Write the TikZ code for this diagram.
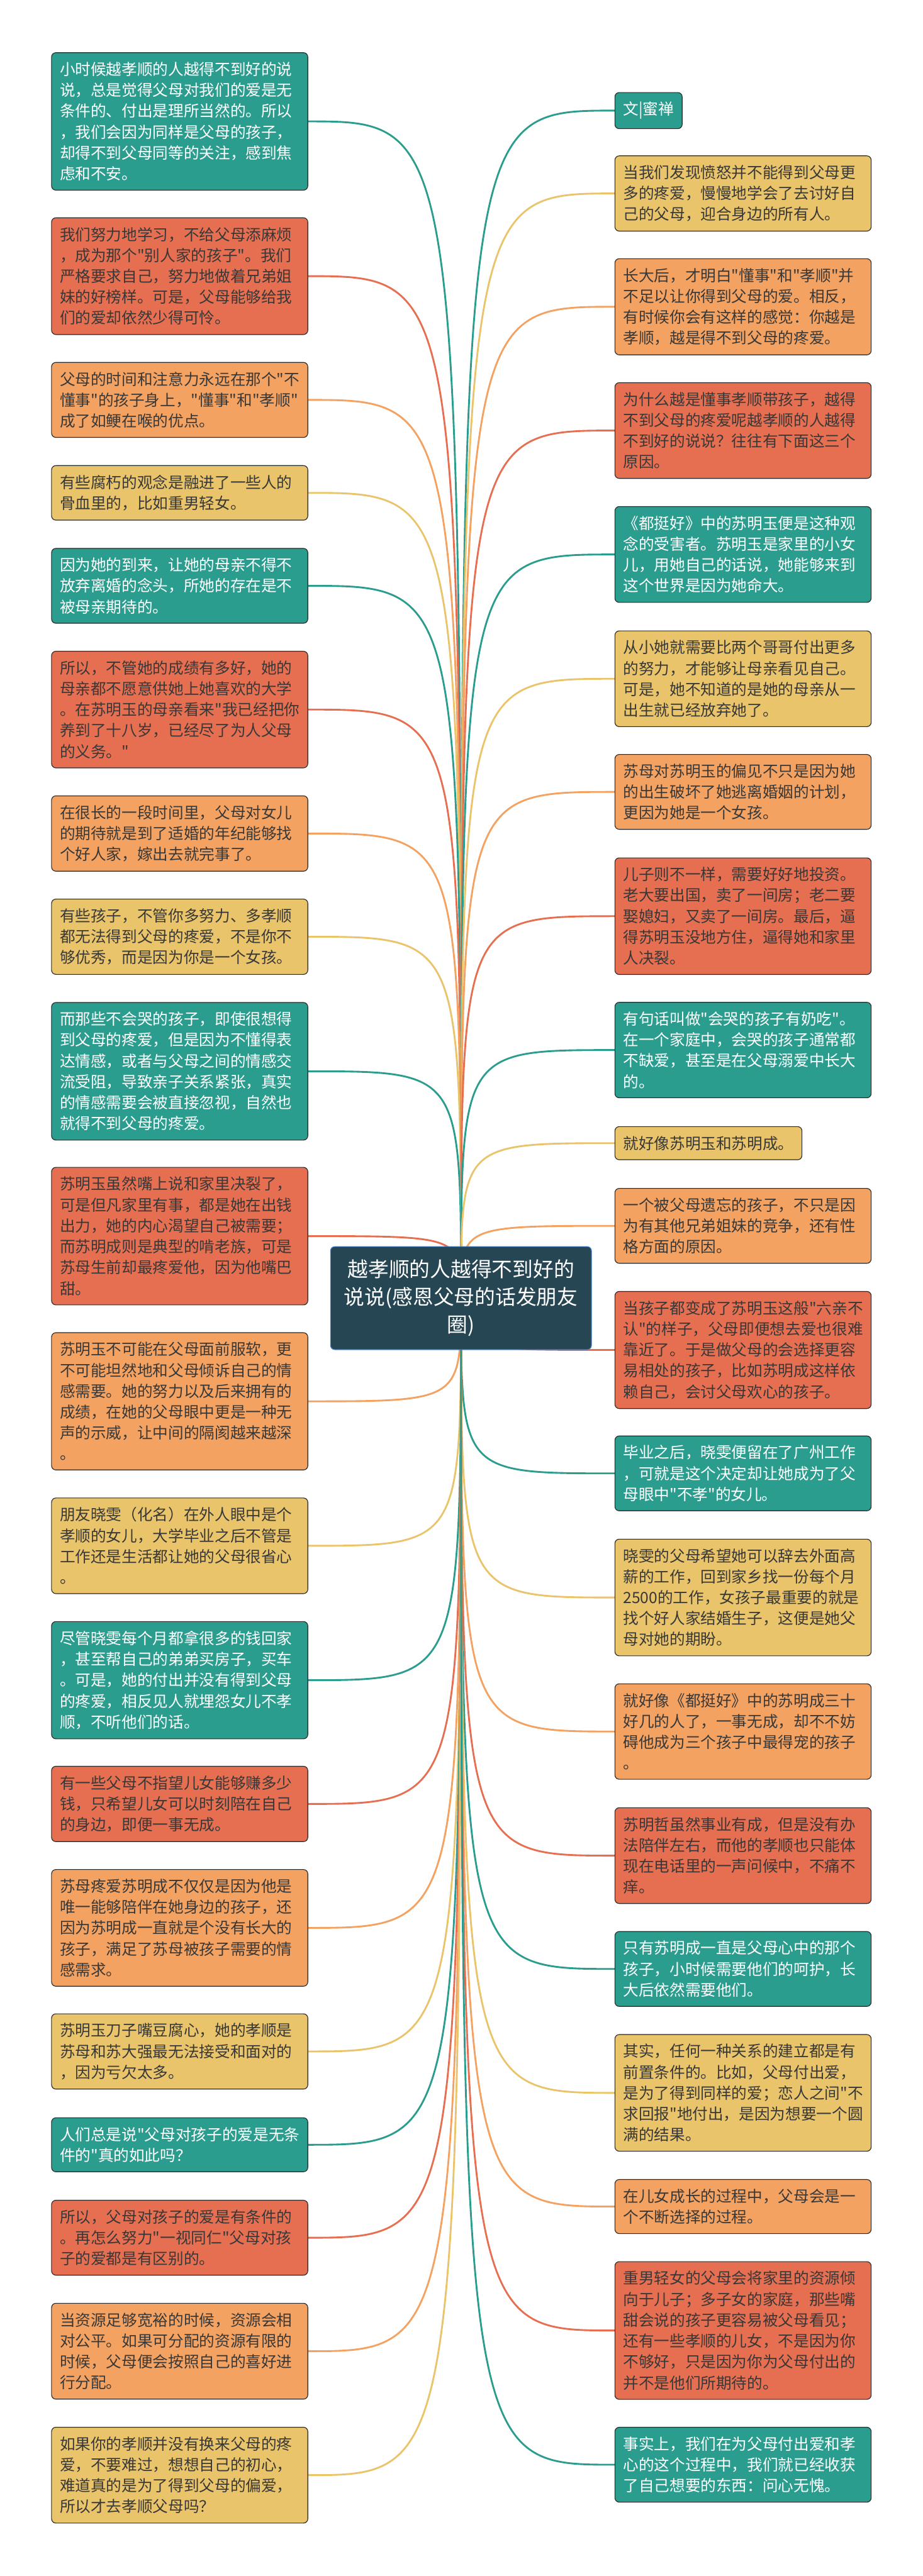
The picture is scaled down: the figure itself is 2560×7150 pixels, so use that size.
\documentclass[tikz,border=0pt]{standalone}
\usepackage{fontspec}
\usepackage{tikz}
\usetikzlibrary{backgrounds}
\newfontfamily\cjk{Noto Sans CJK SC}
\definecolor{tree-teal}{HTML}{2A9D8F}
\definecolor{tree-coral}{HTML}{E76F51}
\definecolor{tree-sand}{HTML}{F4A261}
\definecolor{tree-gold}{HTML}{E9C46A}
\definecolor{tree-slate}{HTML}{264653}
\definecolor{tree-ink}{HTML}{383838}
\definecolor{tree-rim}{HTML}{2A2A2A}
\definecolor{tree-blue}{HTML}{3F7FD0}

\begin{document}
\begin{tikzpicture}[x=0.5pt,y=-0.5pt]
  \tikzstyle{leaf}=[draw=tree-rim, line width=1pt, rounded corners=6pt, inner xsep=11.5pt, inner ysep=13pt, text=tree-ink, font=\cjk\fontsize{21.5pt}{29pt}\selectfont]
  \tikzstyle{wide}=[leaf, text width=332.5pt, align=left]
  \tikzstyle{tealbox}=[fill=tree-teal, text=white]
  \tikzstyle{coralbox}=[fill=tree-coral]
  \tikzstyle{sandbox}=[fill=tree-sand]
  \tikzstyle{goldbox}=[fill=tree-gold]
  \tikzstyle{branch}=[line width=2.5pt, to path={.. controls (\tikztostart |- \tikztotarget) .. (\tikztotarget)}]

  \useasboundingbox (0,0) rectangle (2560,7150);

  \node[fill=tree-slate, draw=tree-blue, line width=1pt, rounded corners=6pt, text=white, align=center, minimum width=362pt, minimum height=143pt, font=\cjk\fontsize{28.6pt}{38.5pt}\selectfont] (root) at (1279,3603) {越孝顺的人越得不到好的\\说说(感恩父母的话发朋友\\圈)};

  %% left side
  \node[wide, tealbox, anchor=east]  (l1)  at (855,337)    {小时候越孝顺的人越得不到好的说\\说，总是觉得父母对我们的爱是无\\条件的、付出是理所当然的。所以\\，我们会因为同样是父母的孩子，\\却得不到父母同等的关注，感到焦\\虑和不安。};
  \node[wide, coralbox, anchor=east] (l2)  at (855,766.5)  {我们努力地学习，不给父母添麻烦\\，成为那个"别人家的孩子"。我们\\严格要求自己，努力地做着兄弟姐\\妹的好榜样。可是，父母能够给我\\们的爱却依然少得可怜。};
  \node[wide, sandbox, anchor=east]  (l3)  at (855,1110)   {父母的时间和注意力永远在那个"不\\懂事"的孩子身上，"懂事"和"孝顺"\\成了如鲠在喉的优点。};
  \node[wide, goldbox, anchor=east]  (l4)  at (855,1368)   {有些腐朽的观念是融进了一些人的\\骨血里的，比如重男轻女。};
  \node[wide, tealbox, anchor=east]  (l5)  at (855,1626)   {因为她的到来，让她的母亲不得不\\放弃离婚的念头，所她的存在是不\\被母亲期待的。};
  \node[wide, coralbox, anchor=east] (l6)  at (855,1969.5) {所以，不管她的成绩有多好，她的\\母亲都不愿意供她上她喜欢的大学\\。在苏明玉的母亲看来"我已经把你\\养到了十八岁，已经尽了为人父母\\的义务。"};
  \node[wide, sandbox, anchor=east]  (l7)  at (855,2313.5) {在很长的一段时间里，父母对女儿\\的期待就是到了适婚的年纪能够找\\个好人家，嫁出去就完事了。};
  \node[wide, goldbox, anchor=east]  (l8)  at (855,2600)   {有些孩子，不管你多努力、多孝顺\\都无法得到父母的疼爱，不是你不\\够优秀，而是因为你是一个女孩。};
  \node[wide, tealbox, anchor=east]  (l9)  at (855,2973.5) {而那些不会哭的孩子，即使很想得\\到父母的疼爱，但是因为不懂得表\\达情感，或者与父母之间的情感交\\流受阻，导致亲子关系紧张，真实\\的情感需要会被直接忽视，自然也\\就得不到父母的疼爱。};
  \node[wide, coralbox, anchor=east] (l10) at (855,3431)   {苏明玉虽然嘴上说和家里决裂了，\\可是但凡家里有事，都是她在出钱\\出力，她的内心渴望自己被需要；\\而苏明成则是典型的啃老族，可是\\苏母生前却最疼爱他，因为他嘴巴\\甜。};
  \node[wide, sandbox, anchor=east]  (l11) at (855,3889.5) {苏明玉不可能在父母面前服软，更\\不可能坦然地和父母倾诉自己的情\\感需要。她的努力以及后来拥有的\\成绩，在她的父母眼中更是一种无\\声的示威，让中间的隔阂越来越深\\。};
  \node[wide, goldbox, anchor=east]  (l12) at (855,4290.5) {朋友晓雯（化名）在外人眼中是个\\孝顺的女儿，大学毕业之后不管是\\工作还是生活都让她的父母很省心\\。};
  \node[wide, tealbox, anchor=east]  (l13) at (855,4663.5) {尽管晓雯每个月都拿很多的钱回家\\，甚至帮自己的弟弟买房子，买车\\。可是，她的付出并没有得到父母\\的疼爱，相反见人就埋怨女儿不孝\\顺，不听他们的话。};
  \node[wide, coralbox, anchor=east] (l14) at (855,5007)   {有一些父母不指望儿女能够赚多少\\钱，只希望儿女可以时刻陪在自己\\的身边，即便一事无成。};
  \node[wide, sandbox, anchor=east]  (l15) at (855,5351)   {苏母疼爱苏明成不仅仅是因为他是\\唯一能够陪伴在她身边的孩子，还\\因为苏明成一直就是个没有长大的\\孩子，满足了苏母被孩子需要的情\\感需求。};
  \node[wide, goldbox, anchor=east]  (l16) at (855,5694)   {苏明玉刀子嘴豆腐心，她的孝顺是\\苏母和苏大强最无法接受和面对的\\，因为亏欠太多。};
  \node[wide, tealbox, anchor=east]  (l17) at (855,5953)   {人们总是说"父母对孩子的爱是无条\\件的"真的如此吗？};
  \node[wide, coralbox, anchor=east] (l18) at (855,6211)   {所以，父母对孩子的爱是有条件的\\。再怎么努力"一视同仁"父母对孩\\子的爱都是有区别的。};
  \node[wide, sandbox, anchor=east]  (l19) at (855,6526)   {当资源足够宽裕的时候，资源会相\\对公平。如果可分配的资源有限的\\时候，父母便会按照自己的喜好进\\行分配。};
  \node[wide, goldbox, anchor=east]  (l20) at (855,6870)   {如果你的孝顺并没有换来父母的疼\\爱，不要难过，想想自己的初心，\\难道真的是为了得到父母的偏爱，\\所以才去孝顺父母吗？};

  %% right side
  \node[leaf, tealbox, anchor=west]  (r1)  at (1705,307)    {文|蜜禅};
  \node[wide, goldbox, anchor=west]  (r2)  at (1705,537)    {当我们发现愤怒并不能得到父母更\\多的疼爱，慢慢地学会了去讨好自\\己的父母，迎合身边的所有人。};
  \node[wide, sandbox, anchor=west]  (r3)  at (1705,851.5)  {长大后，才明白"懂事"和"孝顺"并\\不足以让你得到父母的爱。相反，\\有时候你会有这样的感觉：你越是\\孝顺，越是得不到父母的疼爱。};
  \node[wide, coralbox, anchor=west] (r4)  at (1705,1195)   {为什么越是懂事孝顺带孩子，越得\\不到父母的疼爱呢越孝顺的人越得\\不到好的说说？往往有下面这三个\\原因。};
  \node[wide, tealbox, anchor=west]  (r5)  at (1705,1539)   {《都挺好》中的苏明玉便是这种观\\念的受害者。苏明玉是家里的小女\\儿，用她自己的话说，她能够来到\\这个世界是因为她命大。};
  \node[wide, goldbox, anchor=west]  (r6)  at (1705,1884)   {从小她就需要比两个哥哥付出更多\\的努力，才能够让母亲看见自己。\\可是，她不知道的是她的母亲从一\\出生就已经放弃她了。};
  \node[wide, sandbox, anchor=west]  (r7)  at (1705,2198)   {苏母对苏明玉的偏见不只是因为她\\的出生破坏了她逃离婚姻的计划，\\更因为她是一个女孩。};
  \node[wide, coralbox, anchor=west] (r8)  at (1705,2543)   {儿子则不一样，需要好好地投资。\\老大要出国，卖了一间房；老二要\\娶媳妇，又卖了一间房。最后，逼\\得苏明玉没地方住，逼得她和家里\\人决裂。};
  \node[wide, tealbox, anchor=west]  (r9)  at (1705,2914.5) {有句话叫做"会哭的孩子有奶吃"。\\在一个家庭中，会哭的孩子通常都\\不缺爱，甚至是在父母溺爱中长大\\的。};
  \node[leaf, goldbox, anchor=west]  (r10) at (1705,3173)   {就好像苏明玉和苏明成。};
  \node[wide, sandbox, anchor=west]  (r11) at (1705,3402.5) {一个被父母遗忘的孩子，不只是因\\为有其他兄弟姐妹的竞争，还有性\\格方面的原因。};
  \node[wide, coralbox, anchor=west] (r12) at (1705,3747)   {当孩子都变成了苏明玉这般"六亲不\\认"的样子，父母即便想去爱也很难\\靠近了。于是做父母的会选择更容\\易相处的孩子，比如苏明成这样依\\赖自己，会讨父母欢心的孩子。};
  \node[wide, tealbox, anchor=west]  (r13) at (1705,4089.5) {毕业之后，晓雯便留在了广州工作\\，可就是这个决定却让她成为了父\\母眼中"不孝"的女儿。};
  \node[wide, goldbox, anchor=west]  (r14) at (1705,4434)   {晓雯的父母希望她可以辞去外面高\\薪的工作，回到家乡找一份每个月\\2500的工作，女孩子最重要的就是\\找个好人家结婚生子，这便是她父\\母对她的期盼。};
  \node[wide, sandbox, anchor=west]  (r15) at (1705,4806)   {就好像《都挺好》中的苏明成三十\\好几的人了，一事无成，却不不妨\\碍他成为三个孩子中最得宠的孩子\\。};
  \node[wide, coralbox, anchor=west] (r16) at (1705,5150.5) {苏明哲虽然事业有成，但是没有办\\法陪伴左右，而他的孝顺也只能体\\现在电话里的一声问候中，不痛不\\痒。};
  \node[wide, tealbox, anchor=west]  (r17) at (1705,5465)   {只有苏明成一直是父母心中的那个\\孩子，小时候需要他们的呵护，长\\大后依然需要他们。};
  \node[wide, goldbox, anchor=west]  (r18) at (1705,5809)   {其实，任何一种关系的建立都是有\\前置条件的。比如，父母付出爱，\\是为了得到同样的爱；恋人之间"不\\求回报"地付出，是因为想要一个圆\\满的结果。};
  \node[wide, sandbox, anchor=west]  (r19) at (1705,6124.5) {在儿女成长的过程中，父母会是一\\个不断选择的过程。};
  \node[wide, coralbox, anchor=west] (r20) at (1705,6468.5) {重男轻女的父母会将家里的资源倾\\向于儿子；多子女的家庭，那些嘴\\甜会说的孩子更容易被父母看见；\\还有一些孝顺的儿女，不是因为你\\不够好，只是因为你为父母付出的\\并不是他们所期待的。};
  \node[wide, tealbox, anchor=west]  (r21) at (1705,6841)   {事实上，我们在为父母付出爱和孝\\心的这个过程中，我们就已经收获\\了自己想要的东西：问心无愧。};

  \begin{scope}[on background layer]
  \fill[white] (0,0) rectangle (2560,7150);
  %% branches to the left
  \path[branch]
  (root.center) edge[tree-teal]  (l1.east)
  (root.center) edge[tree-coral] (l2.east)
  (root.center) edge[tree-sand]  (l3.east)
  (root.center) edge[tree-gold]  (l4.east)
  (root.center) edge[tree-teal]  (l5.east)
  (root.center) edge[tree-coral] (l6.east)
  (root.center) edge[tree-sand]  (l7.east)
  (root.center) edge[tree-gold]  (l8.east)
  (root.center) edge[tree-teal]  (l9.east)
  (root.center) edge[tree-coral] (l10.east)
  (root.center) edge[tree-sand]  (l11.east)
  (root.center) edge[tree-gold]  (l12.east)
  (root.center) edge[tree-teal]  (l13.east)
  (root.center) edge[tree-coral] (l14.east)
  (root.center) edge[tree-sand]  (l15.east)
  (root.center) edge[tree-gold]  (l16.east)
  (root.center) edge[tree-teal]  (l17.east)
  (root.center) edge[tree-coral] (l18.east)
  (root.center) edge[tree-sand]  (l19.east)
  (root.center) edge[tree-gold]  (l20.east);
  %% branches to the right
  \path[branch]
  (root.center) edge[tree-teal]  (r1.west)
  (root.center) edge[tree-gold]  (r2.west)
  (root.center) edge[tree-sand]  (r3.west)
  (root.center) edge[tree-coral] (r4.west)
  (root.center) edge[tree-teal]  (r5.west)
  (root.center) edge[tree-gold]  (r6.west)
  (root.center) edge[tree-sand]  (r7.west)
  (root.center) edge[tree-coral] (r8.west)
  (root.center) edge[tree-teal]  (r9.west)
  (root.center) edge[tree-gold]  (r10.west)
  (root.center) edge[tree-sand]  (r11.west)
  (root.center) edge[tree-coral] (r12.west)
  (root.center) edge[tree-teal]  (r13.west)
  (root.center) edge[tree-gold]  (r14.west)
  (root.center) edge[tree-sand]  (r15.west)
  (root.center) edge[tree-coral] (r16.west)
  (root.center) edge[tree-teal]  (r17.west)
  (root.center) edge[tree-gold]  (r18.west)
  (root.center) edge[tree-sand]  (r19.west)
  (root.center) edge[tree-coral] (r20.west)
  (root.center) edge[tree-teal]  (r21.west);
  \end{scope}
\end{tikzpicture}
\end{document}
